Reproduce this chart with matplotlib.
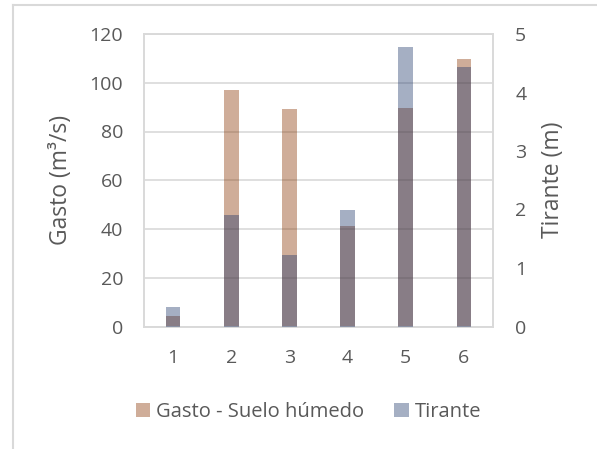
import matplotlib.pyplot as plt
from matplotlib.patches import Rectangle
from matplotlib.lines import Line2D
import numpy as np

plt.rcParams['font.family'] = ['Open Sans', 'DejaVu Sans']

categorias = ['1', '2', '3', '4', '5', '6']
gasto = [4.3, 97.0, 89.4, 41.4, 89.8, 109.7]      # m3/s
tirante = [0.33, 1.9, 1.22, 1.99, 4.78, 4.44]     # m

gris = '#595959'
c_gasto = '#873400'
c_tirante = '#1e376b'
alfa = 0.4

W, H = 597, 449
fig = plt.figure(figsize=(W / 100, H / 100), dpi=100)
ax = fig.add_axes([144 / W, 1 - 326.5 / H, 349 / W, 292.5 / H])
ax2 = ax.twinx()

x = np.arange(len(categorias))
ax.bar(x, gasto, width=0.25, color=c_gasto, alpha=alfa, zorder=3)
ax2.bar(x, tirante, width=0.25, color=c_tirante, alpha=alfa, zorder=3)

ax.set_xlim(-0.5, len(categorias) - 0.5)
ax.set_ylim(0, 120)
ax.set_yticks(range(0, 121, 20))
ax2.set_ylim(0, 5)
ax2.set_yticks(range(0, 6))
ax.set_xticks(x)
ax.set_xticklabels(categorias)

ax.grid(axis='y', color='#d9d9d9', linewidth=1.2, zorder=0)
ax.set_axisbelow(True)
for a in (ax, ax2):
    for s in a.spines.values():
        s.set_color('#d9d9d9')
        s.set_linewidth(1.2)
    a.tick_params(length=0, labelsize=14, labelcolor=gris)
ax.tick_params(axis='x', pad=16)
ax.tick_params(axis='y', pad=15)
ax2.tick_params(axis='y', pad=16)

fig.text(61 / W, 1 - 180 / H, 'Gasto (m³/s)', rotation=90, ha='center',
         va='center', fontsize=16.5, color=gris)
fig.text(553 / W, 1 - 180 / H, 'Tirante (m)', rotation=90, ha='center',
         va='center', fontsize=16.5, color=gris)

# borde exterior del grafico (solo izquierda y arriba visibles)
fig.add_artist(Line2D([12.5 / W, 12.5 / W], [0, 1 - 4.5 / H], color='#d9d9d9',
                      linewidth=1.5, transform=fig.transFigure))
fig.add_artist(Line2D([12.5 / W, 1], [1 - 4.5 / H, 1 - 4.5 / H], color='#d9d9d9',
                      linewidth=1.5, transform=fig.transFigure))

handles = [Rectangle((0, 0), 1, 1, facecolor=c_gasto, alpha=alfa, linewidth=0),
           Rectangle((0, 0), 1, 1, facecolor=c_tirante, alpha=alfa, linewidth=0)]
fig.legend(handles, ['Gasto - Suelo húmedo', 'Tirante'], loc='center',
           bbox_to_anchor=(308.5 / W, 1 - 412 / H), ncol=2, frameon=False,
           fontsize=14.5, labelcolor=gris, handlelength=0.7, handleheight=0.7,
           handletextpad=0.3, columnspacing=1.5)

fig.savefig('out.png', dpi=100)
